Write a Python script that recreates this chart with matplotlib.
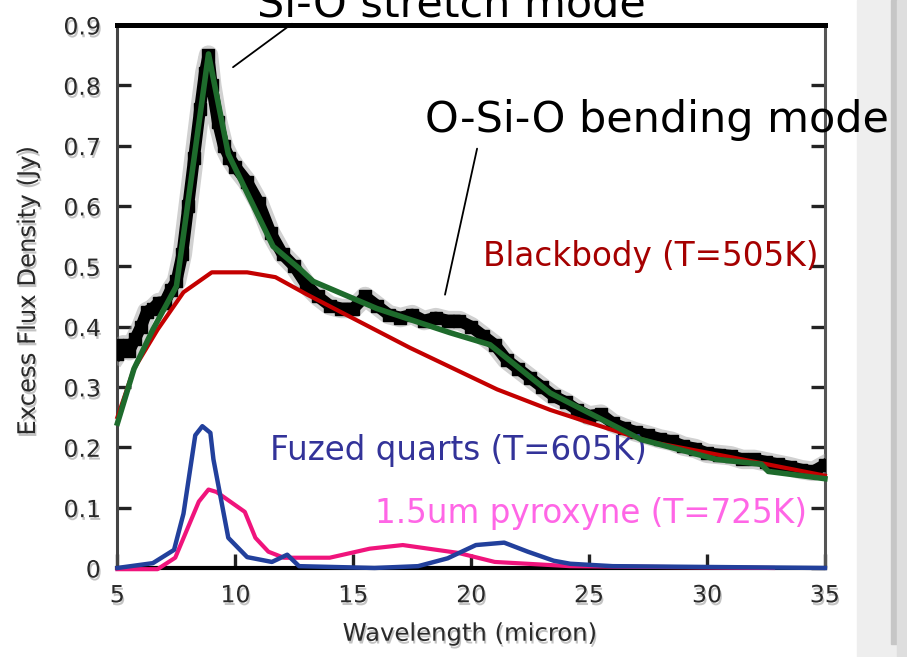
import matplotlib.pyplot as plt
import matplotlib.patheffects as pe
from matplotlib.patches import Rectangle
from matplotlib.ticker import FuncFormatter

# measured excess spectrum (micron, Jy)
spec_wl = [5.0, 5.25, 5.5, 5.75, 6.0, 6.25, 6.5, 6.75, 7.0, 7.25, 7.5, 7.75,
           8.0, 8.25, 8.5, 8.7, 8.86, 9.0, 9.25, 9.5, 9.75, 10.0, 10.5, 11.0,
           11.5, 12.0, 12.5, 13.0, 13.5, 14.0, 14.5, 15.0, 15.5, 16.0, 16.5,
           17.0, 17.5, 18.0, 18.5, 19.0, 19.5, 20.0, 20.5, 21.0, 21.5, 22.0,
           22.5, 23.0, 23.5, 24.0, 24.5, 25.0, 25.5, 26.0, 26.5, 27.0, 27.5,
           28.0, 28.5, 29.0, 29.5, 30.0, 30.5, 31.0, 31.5, 32.0, 32.5, 33.0,
           33.5, 34.0, 34.5, 35.0]
spec_flux = [0.355, 0.37, 0.36, 0.38, 0.40, 0.425, 0.43, 0.44, 0.44, 0.46, 0.475, 0.52,
             0.60, 0.68, 0.76, 0.82, 0.85, 0.80, 0.74, 0.70, 0.68, 0.665, 0.64, 0.605,
             0.555, 0.52, 0.50, 0.47, 0.45, 0.435, 0.43, 0.43, 0.45, 0.435, 0.42,
             0.415, 0.42, 0.41, 0.415, 0.41, 0.41, 0.40, 0.385, 0.37, 0.345, 0.33,
             0.315, 0.30, 0.285, 0.275, 0.262, 0.252, 0.255, 0.24, 0.232, 0.225, 0.22,
             0.214, 0.21, 0.202, 0.198, 0.19, 0.188, 0.186, 0.18, 0.18, 0.176, 0.172,
             0.168, 0.163, 0.16, 0.171]

# total model fit
fit_wl = [5.0, 5.7, 6.5, 7.5, 8.86, 9.7, 11.6, 12.75, 13.3, 16.0, 19.1, 20.8,
          23.35, 27.2, 30.4, 32.3, 32.6, 35.0]
fit_flux = [0.24, 0.33, 0.395, 0.467, 0.852, 0.686, 0.533, 0.495, 0.475, 0.43, 0.39, 0.37,
            0.29, 0.213, 0.18, 0.172, 0.16, 0.148]

# blackbody continuum, T=505K
bb_wl = [5.0, 5.7, 6.7, 7.8, 9.0, 10.5, 11.7, 13.05, 17.4, 21.1, 23.35, 25.0,
         27.6, 31.1, 35.0]
bb_flux = [0.25, 0.33, 0.395, 0.457, 0.49, 0.49, 0.482, 0.453, 0.365, 0.296, 0.262, 0.241,
           0.209, 0.183, 0.153]

# fused quartz component, T=605K
quartz_wl = [5.0, 6.5, 7.4, 7.8, 8.3, 8.6, 8.94, 9.07, 9.7, 10.5, 11.55, 12.2, 12.7,
             15.9, 17.75, 19.0, 20.2, 21.4, 22.4, 23.5, 24.2, 26.0, 35.0]
quartz_flux = [0.0, 0.008, 0.03, 0.09, 0.22, 0.235, 0.224, 0.18, 0.05, 0.018, 0.01, 0.022, 0.003,
               0.0, 0.003, 0.016, 0.038, 0.042, 0.027, 0.012, 0.007, 0.003, 0.0]

# 1.5um pyroxene component, T=725K
pyrox_wl = [5.0, 6.7, 7.45, 8.45, 8.86, 9.2, 10.4, 10.85, 11.4, 12.05, 14.0, 15.7,
            17.1, 19.45, 21.0, 24.2, 32.8]
pyrox_flux = [-0.002, -0.002, 0.017, 0.11, 0.13, 0.126, 0.093, 0.05, 0.027, 0.017, 0.017, 0.032,
              0.038, 0.025, 0.01, 0.003, 0.0]

xticks = [5, 10, 15, 20, 25, 30, 35]
yticks = [0, 0.1, 0.2, 0.3, 0.4, 0.5, 0.6, 0.7, 0.8, 0.9]

plt.rcParams['font.family'] = ['DejaVu Sans']

fig = plt.figure(figsize=(9.07, 6.57), dpi=100)

# slide sidebar on the right edge
fig.add_artist(Rectangle((857 / 907, 0), 50 / 907, 1, transform=fig.transFigure,
                         color='#eeeeee', zorder=0))
fig.add_artist(Rectangle((891 / 907, 0.02), 6 / 907, 0.98, transform=fig.transFigure,
                         color='#c6c6c6', zorder=0))
fig.add_artist(Rectangle((897 / 907, 0), 10 / 907, 1, transform=fig.transFigure,
                         color='#dedede', zorder=0))

ax = fig.add_axes([0.1295, 0.1355, 0.780, 0.8265])

shadow = [pe.withSimplePatchShadow(offset=(1, -2), shadow_rgbFace='#888888', alpha=0.5)]

ax.plot(spec_wl, spec_flux, color='black', lw=8.5, zorder=3,
        path_effects=[pe.Stroke(linewidth=14, foreground='#999999', alpha=0.45), pe.Normal()])
ax.plot(spec_wl, spec_flux, 's', ms=8, color='black', zorder=3)
ax.plot(bb_wl, bb_flux, color='#c40000', lw=3.0, zorder=4, clip_on=False)
ax.plot(fit_wl, fit_flux, color='#1e6b2c', lw=4.0, zorder=5, clip_on=False)
ax.plot(quartz_wl, quartz_flux, color='#22409c', lw=3.2, zorder=6, clip_on=False)
ax.plot(pyrox_wl, pyrox_flux, color='#f0147c', lw=3.0, zorder=5, clip_on=False)

ax.set_xlim(5, 35)
ax.set_ylim(0, 0.9)
ax.set_xticks(xticks)
ax.set_yticks(yticks)
ax.yaxis.set_major_formatter(FuncFormatter(lambda v, p: '0' if v == 0 else f'{v:.1f}'))

ax.tick_params(axis='both', direction='in', length=10, width=2.4, colors='#222222',
               labelsize=17, labelcolor='#2a2a2a')
ax.tick_params(axis='x', pad=11)
ax.tick_params(axis='y', pad=12, right=True)
for lab in ax.get_xticklabels() + ax.get_yticklabels():
    lab.set_path_effects(shadow)

ax.spines['top'].set_linewidth(3.6)
ax.spines['top'].set_color('black')
ax.spines['bottom'].set_linewidth(3.0)
ax.spines['bottom'].set_color('black')
ax.spines['left'].set_linewidth(2.2)
ax.spines['left'].set_color('#444444')
ax.spines['right'].set_linewidth(2.2)
ax.spines['right'].set_color('#555555')

ax.set_xlabel('Wavelength (micron)', fontsize=17.5, color='#2a2a2a', path_effects=shadow)
ax.set_ylabel('Excess Flux Density (Jy)', fontsize=17.5, color='#2a2a2a', path_effects=shadow)
ax.xaxis.set_label_coords(0.498, -0.099)
ax.yaxis.set_label_coords(-0.1095, 0.51)

# component labels
ax.text(20.5, 0.5, 'Blackbody (T=505K)', color='#a50000', fontsize=23.5, va='baseline')
ax.text(11.47, 0.179, 'Fuzed quarts (T=605K)', color='#333399', fontsize=23.5, va='baseline')
ax.text(15.94, 0.075, '1.5um pyroxyne (T=725K)', color='#ff66e6', fontsize=23.5, va='baseline')

# feature call-outs
ax.text(10.9, 0.914, 'Si-O stretch mode', color='black', fontsize=31, va='baseline')
ax.text(18.06, 0.7226, 'O-Si-O bending mode', color='black', fontsize=31, va='baseline')
ax.annotate('', xy=(9.9, 0.83), xytext=(12.4, 0.902), annotation_clip=False,
            arrowprops=dict(arrowstyle='-', color='black', lw=1.3, shrinkA=0, shrinkB=0))
ax.annotate('', xy=(18.89, 0.453), xytext=(20.25, 0.695), annotation_clip=False,
            arrowprops=dict(arrowstyle='-', color='black', lw=1.3, shrinkA=0, shrinkB=0))

fig.savefig('out.png', dpi=100)
